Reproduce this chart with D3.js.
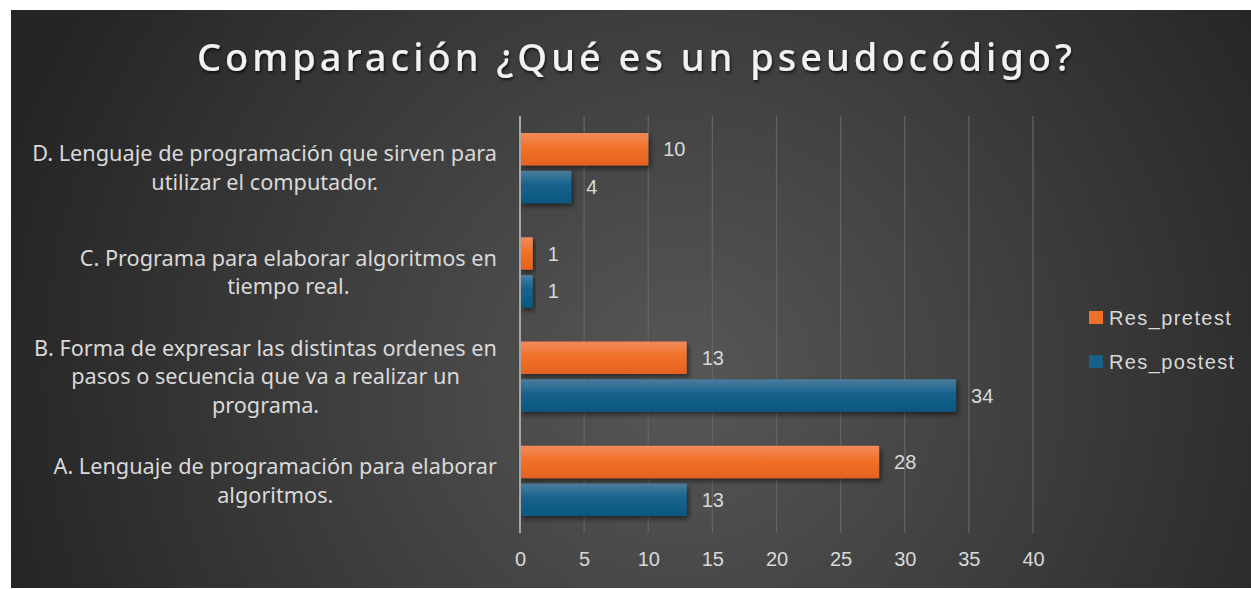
<!DOCTYPE html>
<html>
  <head>
    <meta charset="utf-8">
    <title>Comparación ¿Qué es un pseudocódigo?</title>
    <script src="https://d3js.org/d3.v7.min.js"></script>
    <style>
      body { margin: 0; background: #fff; }
      text { font-family: "Liberation Sans", Arial, sans-serif; }
      .cat { font-family: "Noto Sans", "Open Sans", sans-serif; fill: #d9d9d9; }
      .tick-label, .value, .legend-text { fill: #d9d9d9; }
    </style>
  </head>
  <body>
    <svg width="1251" height="589"></svg>
    <script>
      // data, top to bottom
      var categories = ["D", "C", "B", "A"];
      var categoryLines = [
        ["D. Lenguaje de programación que sirven para", "utilizar el computador."],
        ["C. Programa para elaborar algoritmos en", "tiempo real."],
        ["B. Forma de expresar las distintas ordenes en", "pasos o secuencia que va a realizar un", "programa."],
        ["A. Lenguaje de programación para elaborar", "algoritmos."]
      ];
      var seriesNames = ["Res_pretest", "Res_postest"];
      var pretest = [10, 1, 13, 28];
      var postest = [4, 1, 34, 13];
      var xTicks = [0, 5, 10, 15, 20, 25, 30, 35, 40];

      var width = 1251, height = 589;
      var plot = {left: 520, right: 1033, top: 116, bottom: 533};

      var svg = d3.select("svg");
      var defs = svg.append("defs");

      var bg = defs.append("radialGradient").attr("id", "bg")
          .attr("gradientUnits", "userSpaceOnUse")
          .attr("cx", 680).attr("cy", 380).attr("r", 700);
      bg.append("stop").attr("offset", "0%").attr("stop-color", "#575757");
      bg.append("stop").attr("offset", "100%").attr("stop-color", "#252525");

      function barGrad(id, c0, c1, c2) {
        var g = defs.append("linearGradient").attr("id", id)
            .attr("x1", 0).attr("y1", 0).attr("x2", 0).attr("y2", 1);
        g.append("stop").attr("offset", "0%").attr("stop-color", c0);
        g.append("stop").attr("offset", "45%").attr("stop-color", c1);
        g.append("stop").attr("offset", "100%").attr("stop-color", c2);
      }
      barGrad("g-pre", "#f28a5c", "#f17129", "#e4621f");
      barGrad("g-post", "#4b7d9d", "#14628c", "#0e5880");
      var fills = ["url(#g-pre)", "url(#g-post)"];
      var legendFills = ["#f07027", "#165f86"];

      var sh = defs.append("filter").attr("id", "shadow")
          .attr("x", "-10%").attr("y", "-30%").attr("width", "130%").attr("height", "180%");
      sh.append("feDropShadow").attr("dx", 2).attr("dy", 3).attr("stdDeviation", 2.5)
          .attr("flood-color", "#000").attr("flood-opacity", 0.5);

      var tsh = defs.append("filter").attr("id", "tshadow");
      tsh.append("feDropShadow").attr("dx", 1).attr("dy", 2).attr("stdDeviation", 1.5)
          .attr("flood-color", "#000").attr("flood-opacity", 0.7);

      svg.append("rect").attr("x", 11).attr("y", 10)
          .attr("width", width - 11).attr("height", 578)
          .attr("fill", "url(#bg)");

      // title, spaced out to the reference width
      var titleText = "Comparación ¿Qué es un pseudocódigo?";
      var title = svg.append("text")
          .attr("x", 197).attr("y", 71)
          .attr("fill", "#f2f2f2")
          .attr("filter", "url(#tshadow)")
          .style("font-family", "'Noto Sans', sans-serif")
          .style("font-size", "38px")
          .style("font-weight", 500)
          .text(titleText);
      var tw = title.node().getComputedTextLength();
      title.style("letter-spacing", ((875 - tw) / (titleText.length - 1)) + "px");

      var x = d3.scaleLinear().domain([0, 40]).range([plot.left, plot.right]);
      var y = d3.scaleBand().domain(categories).range([plot.top, plot.bottom]);
      var inner = d3.scaleBand().domain([0, 1])
          .range([17, y.bandwidth() - 17]).paddingInner(0.14);

      // gridlines
      svg.append("g").selectAll("line")
          .data(xTicks.filter(function(d) { return d > 0; }))
          .enter().append("line")
          .attr("x1", function(d) { return x(d); })
          .attr("x2", function(d) { return x(d); })
          .attr("y1", plot.top).attr("y2", plot.bottom)
          .attr("stroke", "#636363").attr("stroke-width", 1.3);

      // x axis labels
      var xAxis = svg.append("g")
          .attr("transform", "translate(0," + plot.bottom + ")")
          .call(d3.axisBottom(x).tickValues(xTicks).tickSize(0).tickPadding(19));
      xAxis.select(".domain").remove();
      xAxis.selectAll("text").attr("class", "tick-label")
          .attr("fill", "#d9d9d9").style("font-size", "20px")
          .style("font-family", "'Liberation Sans', Arial, sans-serif");

      // bars
      var rows = categories.map(function(c, i) {
        return {cat: c, vals: [pretest[i], postest[i]]};
      });
      var grp = svg.append("g").selectAll("g")
          .data(rows).enter().append("g")
          .attr("transform", function(d) { return "translate(0," + y(d.cat) + ")"; });

      grp.selectAll("rect")
          .data(function(d) { return d.vals; })
          .enter().append("rect")
          .attr("x", x(0))
          .attr("y", function(d, i) { return inner(i); })
          .attr("width", function(d) { return x(d) - x(0); })
          .attr("height", inner.bandwidth())
          .attr("fill", function(d, i) { return fills[i]; })
          .attr("filter", "url(#shadow)");

      grp.selectAll("text.value")
          .data(function(d) { return d.vals; })
          .enter().append("text")
          .attr("class", "value")
          .attr("x", function(d) { return x(d) + 15; })
          .attr("y", function(d, i) { return inner(i) + inner.bandwidth() / 2; })
          .attr("dy", "0.36em")
          .style("font-size", "20px")
          .text(function(d) { return d; });

      // vertical axis line
      svg.append("line")
          .attr("x1", x(0)).attr("x2", x(0))
          .attr("y1", plot.top).attr("y2", plot.bottom)
          .attr("stroke", "#a6a6a6").attr("stroke-width", 2);

      // category labels (centered block, right-aligned)
      var lineH = 28.5, labelRight = 497;
      categories.forEach(function(c, i) {
        var lines = categoryLines[i];
        var t = svg.append("text").attr("class", "cat")
            .style("font-size", "21.7px")
            .attr("text-anchor", "middle");
        var cy = y(c) + y.bandwidth() / 2;
        var y0 = cy - (lines.length - 1) * lineH / 2;
        lines.forEach(function(l, j) {
          t.append("tspan").attr("y", y0 + j * lineH).attr("dy", "0.35em").text(l);
        });
        var w = d3.max(t.selectAll("tspan").nodes(), function(n) { return n.getComputedTextLength(); });
        t.selectAll("tspan").attr("x", labelRight - w / 2);
      });

      // legend
      var legend = svg.append("g").selectAll("g")
          .data(seriesNames).enter().append("g")
          .attr("transform", function(d, i) { return "translate(1089," + (317.5 + i * 44) + ")"; });
      legend.append("rect")
          .attr("x", 0).attr("y", -6.5).attr("width", 14).attr("height", 13)
          .attr("fill", function(d, i) { return legendFills[i]; });
      legend.append("text").attr("class", "legend-text")
          .attr("x", 20).attr("dy", "0.36em")
          .style("font-size", "20px").style("letter-spacing", "1.4px")
          .text(function(d) { return d; });
    </script>
  </body>
</html>
